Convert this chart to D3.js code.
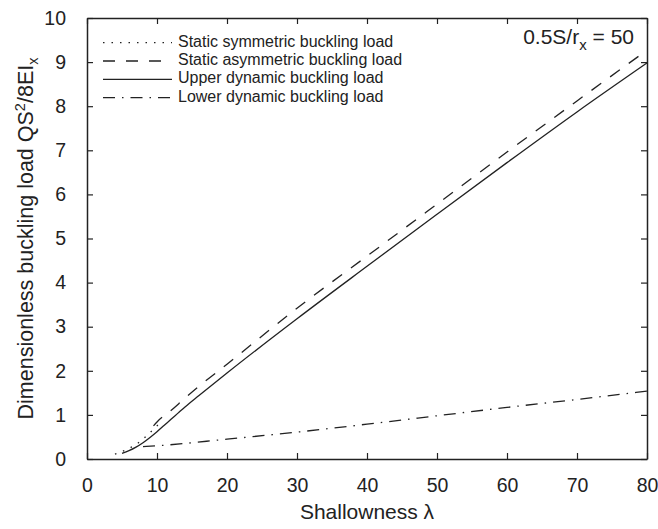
<!DOCTYPE html>
<html>
<head>
<meta charset="utf-8">
<script src="https://cdn.jsdelivr.net/npm/d3@7"></script>
<style>
  body { margin: 0; background: #fff; }
  svg { display: block; font-family: "Liberation Sans", Arial, sans-serif; }
</style>
</head>
<body>
<div id="chart"></div>
<script>
// values
const xTicks = [0, 10, 20, 30, 40, 50, 60, 70, 80];
const yTicks = [0, 1, 2, 3, 4, 5, 6, 7, 8, 9, 10];

const symLambda = [4, 5, 6, 7, 8, 9, 10, 10.5];
const symLoad   = [0.11, 0.17, 0.24, 0.33, 0.45, 0.6, 0.75, 0.84];

const asymLambda = [9.5, 10, 12, 14, 16, 20, 30, 40, 50, 60, 70, 80];
const asymLoad   = [0.75, 0.84, 1.1, 1.38, 1.65, 2.15, 3.42, 4.6, 5.78, 6.96, 8.12, 9.27];

const upperLambda = [5, 6, 7, 8, 9, 10, 11, 12, 13, 14, 16, 20, 30, 40, 50, 60, 70, 80];
const upperLoad   = [0.13, 0.19, 0.27, 0.37, 0.49, 0.62, 0.76, 0.9, 1.04, 1.18, 1.44, 1.95, 3.18, 4.37, 5.55, 6.72, 7.87, 8.98];

const lowerLambda = [8, 10, 20, 30, 40, 50, 60, 70, 80];
const lowerLoad   = [0.28, 0.3, 0.45, 0.61, 0.79, 0.98, 1.17, 1.35, 1.54];

const seriesNames = [
    'Static symmetric buckling load',
    'Static asymmetric buckling load',
    'Upper dynamic buckling load',
    'Lower dynamic buckling load'
];

const width = 658, height = 529;
const margin = { top: 18, right: 11, bottom: 70, left: 87 };
const ink = '#222';

const svg = d3.select('#chart').append('svg')
    .attr('width', width)
    .attr('height', height);

const x = d3.scaleLinear().domain([0, 80]).range([margin.left, width - margin.right]);
const y = d3.scaleLinear().domain([0, 10]).range([height - margin.bottom, margin.top]);

function styleAxis(g) {
    g.selectAll('.domain').attr('stroke', ink).attr('stroke-width', 1.5);
    g.selectAll('.tick line').attr('stroke', ink).attr('stroke-width', 1.2);
    g.selectAll('.tick text').attr('fill', ink).attr('font-size', 19.5)
        .attr('font-family', '"Liberation Sans", Arial, sans-serif');
}

svg.append('g')
    .attr('transform', `translate(0,${y(0)})`)
    .call(d3.axisBottom(x).tickValues(xTicks).tickSizeInner(-6).tickSizeOuter(0).tickPadding(19))
    .call(styleAxis);

svg.append('g')
    .attr('transform', `translate(0,${y(10)})`)
    .call(d3.axisTop(x).tickValues(xTicks).tickSizeInner(-6).tickSizeOuter(0).tickFormat(''))
    .call(styleAxis);

svg.append('g')
    .attr('transform', `translate(${x(0)},0)`)
    .call(d3.axisLeft(y).tickValues(yTicks).tickSizeInner(-6).tickSizeOuter(0).tickPadding(21))
    .call(styleAxis);

svg.append('g')
    .attr('transform', `translate(${x(80)},0)`)
    .call(d3.axisRight(y).tickValues(yTicks).tickSizeInner(-6).tickSizeOuter(0).tickFormat(''))
    .call(styleAxis);

const line = d3.line()
    .x(d => x(d[0]))
    .y(d => y(d[1]))
    .curve(d3.curveMonotoneX);

const styles = [
    { dash: '1.5 7' },
    { dash: '12 11' },
    { dash: null },
    { dash: '12 7 1.5 7' }
];

const series = [
    d3.zip(symLambda, symLoad),
    d3.zip(asymLambda, asymLoad),
    d3.zip(upperLambda, upperLoad),
    d3.zip(lowerLambda, lowerLoad)
];

series.forEach((pts, i) => {
    svg.append('path')
        .datum(pts)
        .attr('fill', 'none')
        .attr('stroke', ink)
        .attr('stroke-width', 1.3)
        .attr('stroke-dasharray', styles[i].dash)
        .attr('d', line);
});

// legend
const legend = svg.append('g').attr('transform', 'translate(103,46.7)');
seriesNames.forEach((name, i) => {
    const row = legend.append('g').attr('transform', `translate(0,${i * 18.3})`);
    row.append('line')
        .attr('x1', 0).attr('x2', 69)
        .attr('y1', -4).attr('y2', -4)
        .attr('stroke', ink)
        .attr('stroke-width', 1.3)
        .attr('stroke-dasharray', styles[i].dash);
    row.append('text')
        .attr('x', 75)
        .attr('y', 0)
        .attr('font-size', 16)
        .attr('fill', ink)
        .text(name);
});

// annotation
const note = svg.append('text')
    .attr('x', 634)
    .attr('y', 44)
    .attr('text-anchor', 'end')
    .attr('font-size', 21)
    .attr('fill', ink);
note.append('tspan').text('0.5S/r');
note.append('tspan').attr('font-size', 15).attr('dy', 6).text('x');
note.append('tspan').attr('dy', -6).text(' = 50');

// axis titles
svg.append('text')
    .attr('x', (x(0) + x(80)) / 2)
    .attr('y', 519)
    .attr('text-anchor', 'middle')
    .attr('font-size', 21)
    .attr('fill', ink)
    .text('Shallowness λ');

const yTitle = svg.append('text')
    .attr('transform', `translate(33,${(y(0) + y(10)) / 2}) rotate(-90)`)
    .attr('text-anchor', 'middle')
    .attr('font-size', 21.5)
    .attr('fill', ink);
yTitle.append('tspan').text('Dimensionless buckling load QS');
yTitle.append('tspan').attr('font-size', 14.5).attr('dy', -8).text('2');
yTitle.append('tspan').attr('dy', 8).text('/8EI');
yTitle.append('tspan').attr('font-size', 14.5).attr('dy', 5).text('x');
</script>
</body>
</html>
